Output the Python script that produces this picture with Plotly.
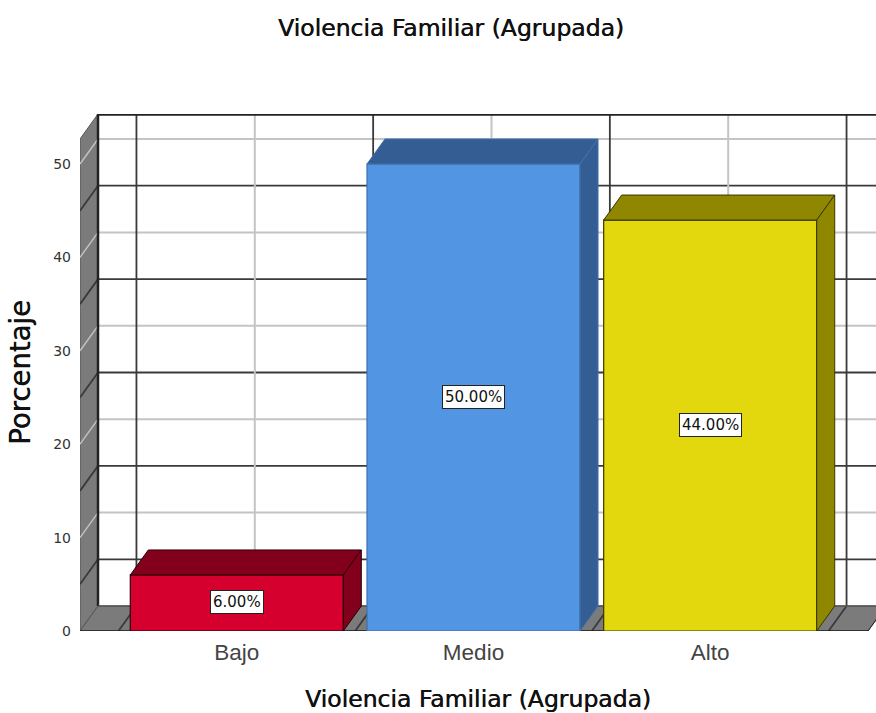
import plotly.graph_objects as go

categories = ["Bajo", "Medio", "Alto"]
values = [6.0, 50.0, 44.0]
labels = ["6.00%", "50.00%", "44.00%"]
front_colors = ["#d5002d", "#5295e3", "#e3d80e"]
side_colors = ["#83001c", "#345d94", "#8f8700"]
edge_colors = ["#2a0008", "#3f70ab", "#3a3600"]
y_ticks = [0, 10, 20, 30, 40, 50]

TITLE = "Violencia Familiar (Agrupada)"
FONT = "DejaVu Sans"
WIDTH, HEIGHT = 876, 713
ML, MT, MB = 80, 114, 82
PX_CAT = 236.7
PX_UNIT = 9.34
BAR_W = 0.9
DX = 18 / PX_CAT
DY = 25 / PX_UNIT
X0 = -(236.8 - ML) / PX_CAT
X1 = X0 + (WIDTH - ML) / PX_CAT
Y1 = (HEIGHT - MB - MT) / PX_UNIT
XF = (868 - 236.8) / PX_CAT  # right end of the floor, front edge
WALL = "#7b7b7b"
DARK = "#3a3a3a"
LIGHT = "#c4c4c4"
THICK = "0.5px 0 0 #111111"

shapes = []


def poly(xs, ys, fill, line=None, w=1):
    path = "M " + " L ".join(f"{a},{b}" for a, b in zip(xs, ys)) + " Z"
    shapes.append(dict(type="path", path=path, xref="x", yref="y", layer="below",
                       fillcolor=fill, line=dict(color=line or fill, width=w)))


def seg(x0, y0, x1, y1, color, w):
    shapes.append(dict(type="line", x0=x0, y0=y0, x1=x1, y1=y1, xref="x", yref="y",
                       layer="below", line=dict(color=color, width=w)))


# walls
ytop_front = Y1 - DY
poly([X0, X0 + DX, X0 + DX, X0], [0, DY, Y1, ytop_front], WALL, "#555555")
poly([X0, X0 + DX, XF + DX, XF], [0, DY, DY, 0], WALL, "#555555")

# horizontal grid on back wall and left wall
for v in range(5, 55, 5):
    c, w = (LIGHT, 2) if v % 10 == 0 else (DARK, 1.8)
    seg(X0 + DX, v + DY, X1 + 1, v + DY, c, w)
    seg(X0, v, X0 + DX, v + DY, c, 1.4 if v % 10 == 0 else w)

# vertical grid on back wall and floor
for i in range(0, 7):
    v = -0.5 + i * 0.5
    c, w = (LIGHT, 2) if i % 2 == 1 else (DARK, 1.8)
    if v + DX > X1 + 1:
        continue
    seg(v + DX, DY, v + DX, Y1, c, w)
    seg(v, 0, v + DX, DY, c, w)

# frame
seg(X0 + DX, Y1 - 0.05, X1 + 1, Y1 - 0.05, "#222222", 2.5)
seg(X0 + DX, DY, X0 + DX, Y1, "#222222", 2.5)
seg(X0 + DX, DY, X1 + 1, DY, "#555555", 1.5)
seg(X0, 0, XF, 0, "#222222", 1.5)
seg(XF, 0, XF + DX, DY, "#222222", 1)

fig = go.Figure()

fig.add_trace(go.Bar(
    x=list(range(len(categories))), y=values, width=BAR_W,
    marker=dict(color=front_colors, line=dict(color=edge_colors, width=1.2)),
    showlegend=False, hoverinfo="skip",
))

# 3D faces of each bar, derived from the values
for i, v in enumerate(values):
    l, r = i - BAR_W / 2, i + BAR_W / 2
    fig.add_trace(go.Scatter(
        x=[l, l + DX, r + DX, r, l], y=[v, v + DY, v + DY, v, v],
        mode="lines", fill="toself", fillcolor=side_colors[i],
        line=dict(color=edge_colors[i], width=1), showlegend=False, hoverinfo="skip"))
    fig.add_trace(go.Scatter(
        x=[r, r + DX, r + DX, r, r], y=[0, DY, v + DY, v, 0],
        mode="lines", fill="toself", fillcolor=side_colors[i],
        line=dict(color=edge_colors[i], width=1), showlegend=False, hoverinfo="skip"))

annotations = [
    dict(x=i, y=v / 2 + 0.1, text=labels[i], showarrow=False, xref="x", yref="y",
         font=dict(family=FONT, size=15, color="#111111"),
         bgcolor="white", bordercolor="#222222", borderwidth=1, borderpad=2)
    for i, v in enumerate(values)
]

fig.update_layout(
    width=WIDTH, height=HEIGHT, autosize=False,
    paper_bgcolor="white", plot_bgcolor="white",
    margin=dict(l=ML, r=0, t=MT, b=MB, pad=0),
    font=dict(family=FONT, color="#222222"),
    showlegend=False,
    shapes=shapes, annotations=annotations,
    title=dict(text=TITLE, x=451 / WIDTH, xanchor="center", y=1 - 28 / HEIGHT, yanchor="middle",
               font=dict(family=FONT, size=23.5, color="#111111", shadow=THICK)),
    xaxis=dict(range=[X0, X1], tickvals=list(range(len(categories))), ticktext=categories,
               showgrid=False, zeroline=False, showline=False, ticks="", ticklabelstandoff=5,
               tickfont=dict(family="Liberation Sans", size=22.5, color="#444444"),
               title=dict(text=TITLE, standoff=29, font=dict(family=FONT, size=23.5, color="#111111", shadow=THICK))),
    yaxis=dict(range=[0, Y1], tickvals=y_ticks, showgrid=False, zeroline=False, showline=False,
               ticks="", ticklabelstandoff=8,
               tickfont=dict(family=FONT, size=14, color="#333333"),
               title=dict(text="Porcentaje", standoff=14, font=dict(family=FONT, size=27.5, color="#111111", shadow=THICK))),
)

fig.write_html("out.html", config={"displayModeBar": False}, post_script="document.body.style.margin='0';")
